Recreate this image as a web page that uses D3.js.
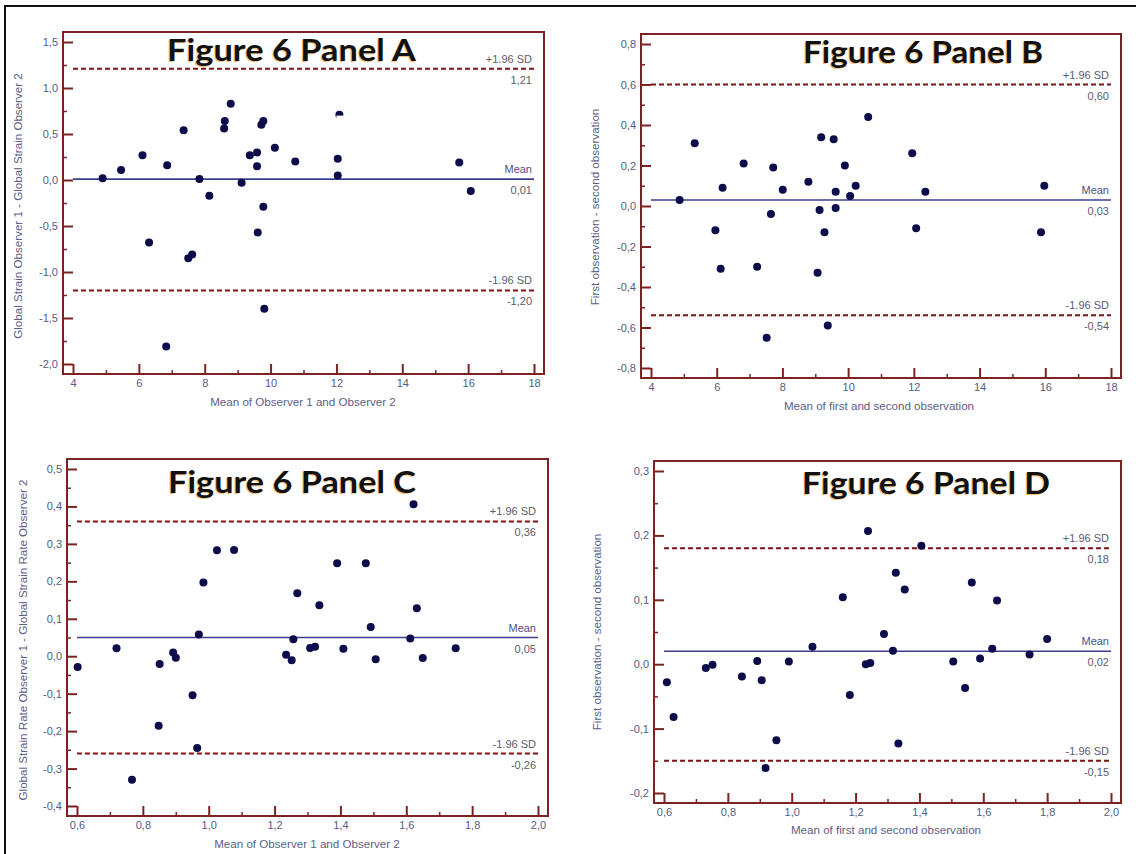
<!DOCTYPE html>
<html>
<head>
<meta charset="utf-8">
<script src="https://cdn.jsdelivr.net/npm/d3@7"></script>
<style>
  html, body { margin: 0; padding: 0; background: #fff; }
  svg { display: block; }
</style>
</head>
<body>
<svg id="fig" width="1136" height="854"></svg>
<script>
// ---- Panel A: global strain, observer 1 vs observer 2 ----
const aMeanX = [4.90, 5.46, 6.11, 6.31, 6.86, 6.83, 7.36, 7.50, 7.62, 7.84, 8.14, 8.59, 8.61, 8.79, 9.12,
                9.37, 9.59, 9.59, 9.61, 9.72, 9.78, 9.78, 9.81, 10.13, 10.75, 12.09, 12.04, 12.04, 15.73, 16.08];
const aDiff  = [0.02, 0.11, 0.27, -0.68, 0.16, -1.81, 0.54, -0.85, -0.81, 0.01, -0.17, 0.56, 0.64, 0.83, -0.03,
                0.27, 0.30, 0.15, -0.57, 0.60, 0.64, -0.29, -1.40, 0.35, 0.20, 0.71, 0.23, 0.05, 0.19, -0.12];
const aLimits = [1.21, 0.01, -1.20];
const aLimitLabels = ["1,21", "0,01", "-1,20"];

// ---- Panel B: global strain, first vs second observation ----
const bMeanX = [4.87, 5.33, 5.96, 6.18, 6.12, 6.82, 7.23, 7.52, 7.65, 7.72, 8.01, 8.79, 9.07, 9.13, 9.18,
                9.28, 9.38, 9.56, 9.62, 9.62, 9.90, 10.06, 10.23, 10.61, 11.95, 12.07, 12.35, 15.97, 15.87];
const bDiff  = [0.03, 0.31, -0.12, 0.09, -0.31, 0.21, -0.30, -0.65, -0.04, 0.19, 0.08, 0.12, -0.33, -0.02, 0.34,
                -0.13, -0.59, 0.33, 0.07, -0.01, 0.20, 0.05, 0.10, 0.44, 0.26, -0.11, 0.07, 0.10, -0.13];
const bLimits = [0.60, 0.03, -0.54];
const bLimitLabels = ["0,60", "0,03", "-0,54"];

// ---- Panel C: global strain rate, observer 1 vs observer 2 ----
const cMeanX = [0.602, 0.720, 0.767, 0.848, 0.851, 0.892, 0.900, 0.951, 0.965, 0.970, 0.984, 1.025, 1.077, 1.235, 1.252,
                1.257, 1.269, 1.308, 1.323, 1.336, 1.390, 1.409, 1.477, 1.492, 1.507, 1.612, 1.622, 1.632, 1.650, 1.750];
const cDiff  = [-0.029, 0.021, -0.330, -0.186, -0.021, 0.010, -0.004, -0.104, -0.245, 0.058, 0.197, 0.283, 0.284, 0.004, -0.011,
                0.045, 0.168, 0.022, 0.025, 0.136, 0.248, 0.020, 0.248, 0.078, -0.008, 0.047, 0.406, 0.128, -0.005, 0.021];
const cLimits = [0.36, 0.05, -0.26];
const cLimitLabels = ["0,36", "0,05", "-0,26"];

// ---- Panel D: global strain rate, first vs second observation ----
const dMeanX = [0.609, 0.630, 0.731, 0.752, 0.844, 0.892, 0.906, 0.918, 0.952, 0.991, 1.065, 1.160, 1.182, 1.232, 1.246,
                1.239, 1.289, 1.317, 1.326, 1.334, 1.354, 1.406, 1.506, 1.543, 1.564, 1.590, 1.628, 1.643, 1.745, 1.800];
const dDiff  = [-0.028, -0.082, -0.006, -0.001, -0.019, 0.005, -0.025, -0.161, -0.118, 0.004, 0.027, 0.104, -0.048, 0.000, 0.002,
                0.207, 0.047, 0.021, 0.142, -0.123, 0.116, 0.184, 0.004, -0.037, 0.127, 0.009, 0.024, 0.099, 0.015, 0.039];
const dLimits = [0.18, 0.02, -0.15];
const dLimitLabels = ["0,18", "0,02", "-0,15"];

// ---- Tick values and labels ----
const xTicksStrain = [4, 6, 8, 10, 12, 14, 16, 18];
const xMinorStrain = [5, 7, 9, 11, 13, 15, 17];
const xLabelsStrain = ["4", "6", "8", "10", "12", "14", "16", "18"];

const xTicksRate = [0.6, 0.8, 1.0, 1.2, 1.4, 1.6, 1.8, 2.0];
const xMinorRate = [0.7, 0.9, 1.1, 1.3, 1.5, 1.7, 1.9];
const xLabelsRate = ["0,6", "0,8", "1,0", "1,2", "1,4", "1,6", "1,8", "2,0"];

const aYTicks = [-2.0, -1.5, -1.0, -0.5, 0.0, 0.5, 1.0, 1.5];
const aYMinor = [-1.75, -1.25, -0.75, -0.25, 0.25, 0.75, 1.25];
const aYLabels = ["-2,0", "-1,5", "-1,0", "-0,5", "0,0", "0,5", "1,0", "1,5"];

const bYTicks = [-0.8, -0.6, -0.4, -0.2, 0.0, 0.2, 0.4, 0.6, 0.8];
const bYMinor = [-0.7, -0.5, -0.3, -0.1, 0.1, 0.3, 0.5, 0.7];
const bYLabels = ["-0,8", "-0,6", "-0,4", "-0,2", "0,0", "0,2", "0,4", "0,6", "0,8"];

const cYTicks = [-0.4, -0.3, -0.2, -0.1, 0.0, 0.1, 0.2, 0.3, 0.4, 0.5];
const cYMinor = [-0.35, -0.25, -0.15, -0.05, 0.05, 0.15, 0.25, 0.35, 0.45];
const cYLabels = ["-0,4", "-0,3", "-0,2", "-0,1", "0,0", "0,1", "0,2", "0,3", "0,4", "0,5"];

const dYTicks = [-0.2, -0.1, 0.0, 0.1, 0.2, 0.3];
const dYMinor = [-0.15, -0.05, 0.05, 0.15, 0.25];
const dYLabels = ["-0,2", "-0,1", "0,0", "0,1", "0,2", "0,3"];

const limitNames = ["+1.96 SD", "Mean", "-1.96 SD"];

// ---- Drawing ----
const FRAME = "#7b2323";
const DOT = "#0c0c4a";
const MEANLINE = "#3c3f8e";
const SDLINE = "#7a1616";
const LABEL = "#525b85";
const SANS = '"Liberation Sans", Arial, sans-serif';

const svg = d3.select("#fig");
svg.append("rect").attr("width", 1136).attr("height", 854).attr("fill", "#fff");

// page border (top and left edges)
svg.append("path").attr("d", "M5,854 L5,6 L1136,6")
  .attr("fill", "none").attr("stroke", "#111").attr("stroke-width", 2);

function panel(p) {
  const g = svg.append("g");
  const pad = 10;
  const x = d3.scaleLinear().domain(p.xDomain).range([p.frame[0] + pad, p.frame[2] - pad]);
  const y = d3.scaleLinear().domain(p.yDomain).range([p.frame[3] - pad, p.frame[1] + pad]);

  // axes: ticks point inward from the frame edges
  const yMajor = d3.axisLeft(y).tickValues(p.yTicks).tickSize(-pad).tickPadding(5)
    .tickFormat((d, i) => p.yLabels[i]);
  const yMinor = d3.axisLeft(y).tickValues(p.yMinor).tickSize(-4).tickFormat("");
  const xMajor = d3.axisBottom(x).tickValues(p.xTicks).tickSize(-pad).tickPadding(5)
    .tickFormat((d, i) => p.xLabels[i]);
  const xMinor = d3.axisBottom(x).tickValues(p.xMinor).tickSize(-4).tickFormat("");

  const styleAxis = (a, w) => {
    a.attr("font-family", SANS).attr("font-size", 11);
    a.select(".domain").remove();
    a.selectAll(".tick line").attr("stroke", FRAME).attr("stroke-width", w);
    a.selectAll(".tick text").attr("fill", LABEL);
  };
  [[yMajor, 2], [yMinor, 1.5]].forEach(([ax, w]) => {
    styleAxis(g.append("g").attr("transform", `translate(${p.frame[0]},0)`).call(ax), w);
  });
  [[xMajor, 2], [xMinor, 1.5]].forEach(([ax, w]) => {
    styleAxis(g.append("g").attr("transform", `translate(0,${p.frame[3]})`).call(ax), w);
  });

  // frame
  g.append("rect")
    .attr("x", p.frame[0]).attr("y", p.frame[1])
    .attr("width", p.frame[2] - p.frame[0]).attr("height", p.frame[3] - p.frame[1])
    .attr("fill", "none").attr("stroke", FRAME).attr("stroke-width", 2);

  // title
  const tg = g.append("g").attr("font-family", "Lato, 'Open Sans', sans-serif")
    .attr("font-weight", 700).attr("font-size", 30);
  tg.append("text").attr("x", p.title.x - 1).attr("y", p.title.y + 1)
    .attr("textLength", p.title.w).attr("lengthAdjust", "spacingAndGlyphs")
    .attr("fill", "#e9a548").attr("opacity", 0.7).text(p.title.text);
  tg.append("text").attr("x", p.title.x).attr("y", p.title.y)
    .attr("textLength", p.title.w).attr("lengthAdjust", "spacingAndGlyphs")
    .attr("fill", "#111").text(p.title.text);

  // limit lines: upper SD, mean, lower SD
  const x0 = x.range()[0], x1 = x.range()[1];
  p.limits.forEach((v, i) => {
    const isMean = i === 1;
    g.append("line").attr("x1", x0).attr("x2", x1).attr("y1", y(v)).attr("y2", y(v))
      .attr("stroke", isMean ? MEANLINE : SDLINE)
      .attr("stroke-width", isMean ? 1.6 : 2)
      .attr("stroke-dasharray", isMean ? null : "5,3");
    g.append("text").attr("x", x1 - 2).attr("y", y(v) - 6).attr("text-anchor", "end")
      .attr("font-family", SANS).attr("font-size", 11)
      .attr("fill", isMean ? "#4d5088" : "#5c5c6c").text(limitNames[i]);
    g.append("text").attr("x", x1 - 2).attr("y", y(v) + 15).attr("text-anchor", "end")
      .attr("font-family", SANS).attr("font-size", 11)
      .attr("fill", "#5c5c6c").text(p.limitLabels[i]);
  });

  // points
  g.append("g").selectAll("circle").data(p.xs.map((d, i) => [d, p.ys[i]])).join("circle")
    .attr("cx", d => x(d[0])).attr("cy", d => y(d[1])).attr("r", 4).attr("fill", DOT);

  // axis titles
  g.append("text").attr("x", p.xTitle.x).attr("y", p.xTitle.y).attr("text-anchor", "middle")
    .attr("font-family", SANS).attr("font-size", 11.6).attr("fill", "#5a6088").text(p.xTitle.text);
  g.append("text").attr("transform", `translate(${p.yTitle.x},${p.yTitle.y}) rotate(-90)`)
    .attr("text-anchor", "middle").attr("dy", "0.35em")
    .attr("font-family", SANS).attr("font-size", 11.6).attr("fill", "#5a6088").text(p.yTitle.text);

  return { g, x, y };
}

const pa = panel({
  frame: [63, 32, 544, 374], xDomain: [4, 18], yDomain: [-2, 1.5],
  xTicks: xTicksStrain, xMinor: xMinorStrain, xLabels: xLabelsStrain,
  yTicks: aYTicks, yMinor: aYMinor, yLabels: aYLabels,
  limits: aLimits, limitLabels: aLimitLabels, xs: aMeanX, ys: aDiff,
  title: { text: "Figure 6 Panel A", x: 167, y: 61, w: 249 },
  xTitle: { text: "Mean of Observer 1 and Observer 2", x: 303, y: 406 },
  yTitle: { text: "Global Strain Observer 1 - Global Strain Observer 2", x: 18, y: 206 }
});
// white label box partly covering the point near (12, 0.7)
pa.g.append("rect").attr("x", pa.x(12.0)).attr("y", pa.y(0.70)).attr("width", 44).attr("height", 20)
  .attr("fill", "#fff");

panel({
  frame: [641, 34, 1121, 378], xDomain: [4, 18], yDomain: [-0.8, 0.8],
  xTicks: xTicksStrain, xMinor: xMinorStrain, xLabels: xLabelsStrain,
  yTicks: bYTicks, yMinor: bYMinor, yLabels: bYLabels,
  limits: bLimits, limitLabels: bLimitLabels, xs: bMeanX, ys: bDiff,
  title: { text: "Figure 6 Panel B", x: 803, y: 63, w: 240 },
  xTitle: { text: "Mean of first and second observation", x: 879, y: 410 },
  yTitle: { text: "First observation - second observation", x: 595, y: 207 }
});

panel({
  frame: [67, 459, 548, 816], xDomain: [0.6, 2.0], yDomain: [-0.4, 0.5],
  xTicks: xTicksRate, xMinor: xMinorRate, xLabels: xLabelsRate,
  yTicks: cYTicks, yMinor: cYMinor, yLabels: cYLabels,
  limits: cLimits, limitLabels: cLimitLabels, xs: cMeanX, ys: cDiff,
  title: { text: "Figure 6 Panel C", x: 168, y: 493, w: 248 },
  xTitle: { text: "Mean of Observer 1 and Observer 2", x: 307, y: 848 },
  yTitle: { text: "Global Strain Rate Observer 1 - Global Strain Rate Observer 2", x: 23, y: 640 }
});

panel({
  frame: [654, 461, 1121, 803], xDomain: [0.6, 2.0], yDomain: [-0.2, 0.3],
  xTicks: xTicksRate, xMinor: xMinorRate, xLabels: xLabelsRate,
  yTicks: dYTicks, yMinor: dYMinor, yLabels: dYLabels,
  limits: dLimits, limitLabels: dLimitLabels, xs: dMeanX, ys: dDiff,
  title: { text: "Figure 6 Panel D", x: 802, y: 494, w: 248 },
  xTitle: { text: "Mean of first and second observation", x: 886, y: 834 },
  yTitle: { text: "First observation - second observation", x: 597, y: 632 }
});
</script>
</body>
</html>
